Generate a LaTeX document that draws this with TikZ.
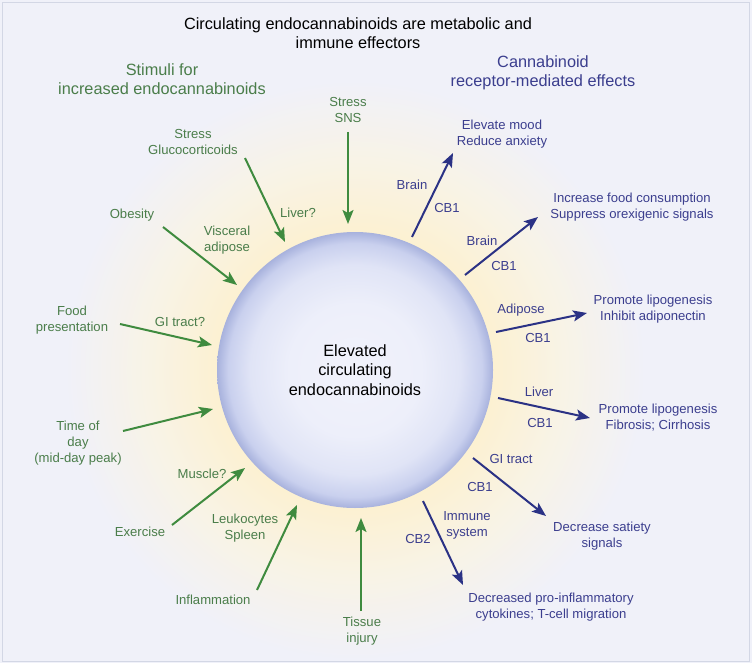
\documentclass[tikz,border=0pt]{standalone}
\usepackage{fontspec}
\setmainfont{Liberation Sans}
\usetikzlibrary{arrows.meta}
\definecolor{bgc}{HTML}{F0F1F9}
\definecolor{glowc}{HTML}{FCF1D2}
\definecolor{glowm}{HTML}{F8F3E6}
\definecolor{framec}{HTML}{D3D7E5}
\definecolor{garr}{HTML}{3F8B3F}
\definecolor{gtxt}{HTML}{4A7D4A}
\definecolor{barr}{HTML}{2B3285}
\definecolor{btxt}{HTML}{3B3E8E}
\definecolor{ballin}{HTML}{F1F2FB}
\definecolor{balla}{HTML}{EDEFFA}
\definecolor{ballb}{HTML}{E0E4F6}
\definecolor{ballc}{HTML}{C9D0EE}
\definecolor{ballout}{HTML}{A8B2DD}
\pgfdeclareradialshading{glowshade}{\pgfpoint{0bp}{0bp}}{color(0bp)=(glowc); color(12bp)=(glowc); color(18bp)=(glowm); color(25bp)=(bgc); color(50bp)=(bgc)}
\pgfdeclareradialshading{ballshade}{\pgfpoint{0bp}{0bp}}{color(0bp)=(ballin); color(12bp)=(balla); color(19bp)=(ballb); color(23bp)=(ballc); color(25bp)=(ballout); color(50bp)=(ballout)}
\tikzset{
  lbl/.style={font=\fontsize{13.1}{16}\selectfont, align=center, inner sep=0pt},
  glbl/.style={lbl, text=gtxt},
  blbl/.style={lbl, text=btxt},
  head/.style={font=\fontsize{16.3}{19.5}\selectfont, align=center, inner sep=0pt},
  garrow/.style={draw=garr, line width=2pt, -{Stealth[length=14pt,width=11pt,inset=3pt]}},
  barrow/.style={draw=barr, line width=2pt, -{Stealth[length=14pt,width=11pt,inset=3pt]}},
}
\begin{document}
\begin{tikzpicture}[x=1pt,y=-1pt]
\useasboundingbox (0,0) rectangle (752,663);
\fill[bgc] (0,0) rectangle (752,663);
\draw[framec, line width=1pt] (2.5,2.5) rectangle (749.5,661);
\shade[shading=glowshade] (355,370) circle (290pt);
\node[circle, minimum size=276pt, inner sep=0pt, shading=ballshade, align=center,
      font=\fontsize{16.3}{19.5}\selectfont] (ball) at (355,370) {Elevated\\circulating\\endocannabinoids};

% headings
\node[head] (title) at (358,33) {Circulating endocannabinoids are metabolic and\\immune effectors};
\node[head, text=gtxt] (stimh) at (162,79) {Stimuli for\\increased endocannabinoids};
\node[head, text=btxt] (effh) at (543,73) {Cannabinoid\\receptor-mediated effects};

% stimuli labels
\node[glbl] (sns) at (348,110) {Stress\\SNS};
\node[glbl] (gluco) at (193,142) {Stress\\Glucocorticoids};
\node[glbl] (liverq) at (298,213) {Liver?};
\node[glbl] (obes) at (132,215) {Obesity};
\node[glbl] (visc) at (227,240) {Visceral\\adipose};
\node[glbl] (food) at (72,320) {Food\\presentation};
\node[glbl] (gitq) at (180,322) {GI tract?};
\node[glbl] (time) at (78,443) {Time of\\day\\(mid-day peak)};
\node[glbl] (musc) at (202,474) {Muscle?};
\node[glbl] (exer) at (140,532) {Exercise};
\node[glbl] (leuk) at (245,528) {Leukocytes\\Spleen};
\node[glbl] (infl) at (213,600) {Inflammation};
\node[glbl] (tiss) at (362,631) {Tissue\\injury};

% effect labels
\node[blbl] (mood) at (502,134) {Elevate mood\\Reduce anxiety};
\node[blbl] (brain1) at (412,185) {Brain};
\node[blbl] (cb1a) at (447,208) {CB1};
\node[blbl] (foodc) at (632,207) {Increase food consumption\\Suppress orexigenic signals};
\node[blbl] (brain2) at (482,241) {Brain};
\node[blbl] (cb1b) at (504,266) {CB1};
\node[blbl] (lipo1) at (653,309) {Promote lipogenesis\\Inhibit adiponectin};
\node[blbl] (adip) at (521,310) {Adipose};
\node[blbl] (cb1c) at (538,338) {CB1};
\node[blbl] (liver) at (539,392) {Liver};
\node[blbl] (cb1d) at (540,423) {CB1};
\node[blbl] (lipo2) at (658,418) {Promote lipogenesis\\Fibrosis; Cirrhosis};
\node[blbl] (git) at (511,459) {GI tract};
\node[blbl] (cb1e) at (480,487) {CB1};
\node[blbl] (sat) at (602,536) {Decrease satiety\\signals};
\node[blbl] (immu) at (467,525) {Immune\\system};
\node[blbl] (cb2) at (418,539) {CB2};
\node[blbl] (cyto) at (551,607) {Decreased pro-inflammatory\\cytokines; T-cell migration};

% arrow end points
\coordinate (g1s) at (348,132); \coordinate (g1e) at (348,224);
\coordinate (g2s) at (245,158); \coordinate (g2e) at (285,242);
\coordinate (g3s) at (163,227); \coordinate (g3e) at (237,285);
\coordinate (g4s) at (120,324); \coordinate (g4e) at (212,345);
\coordinate (g5s) at (123,431); \coordinate (g5e) at (213,409);
\coordinate (g6s) at (172,525); \coordinate (g6e) at (245,468);
\coordinate (g7s) at (257,590); \coordinate (g7e) at (297,505);
\coordinate (g8s) at (361,611); \coordinate (g8e) at (361,518);
\coordinate (b1s) at (412,237); \coordinate (b1e) at (453,153);
\coordinate (b2s) at (465,275); \coordinate (b2e) at (538,217);
\coordinate (b3s) at (496,332); \coordinate (b3e) at (587,313);
\coordinate (b4s) at (498,398); \coordinate (b4e) at (590,418);
\coordinate (b5s) at (473,458); \coordinate (b5e) at (546,516);
\coordinate (b6s) at (423,501); \coordinate (b6e) at (463,585);

\foreach \i in {1,...,8} {\draw[garrow] (g\i s) -- (g\i e);}
\foreach \i in {1,...,6} {\draw[barrow] (b\i s) -- (b\i e);}
\end{tikzpicture}
\end{document}
